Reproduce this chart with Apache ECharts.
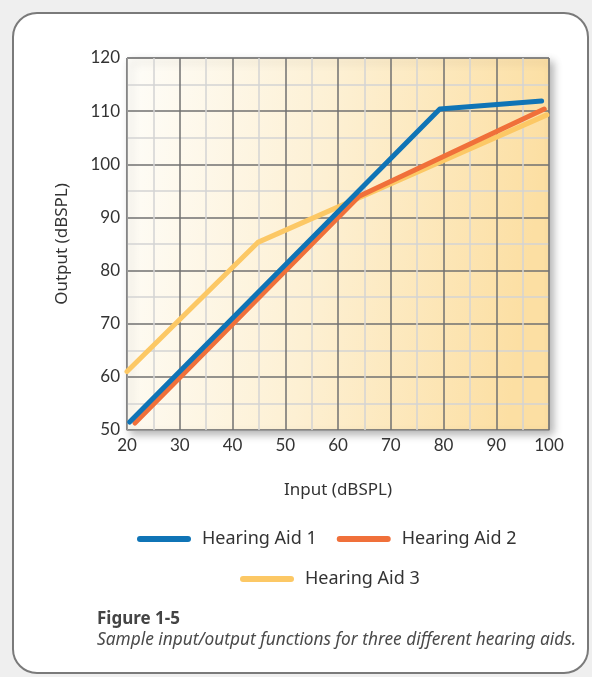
<!DOCTYPE html>
<html>
<head>
<meta charset="utf-8">
<title>Hearing aid input/output functions</title>
<script src="https://cdn.jsdelivr.net/npm/echarts@6/dist/echarts.min.js"></script>
<style>
  html, body { margin: 0; padding: 0; background: #efefef; }
  #chart { width: 592px; height: 677px; }
</style>
</head>
<body>
<div id="chart"></div>
<script>
// Input/output curves (dB SPL) for three hearing aids
const seriesNames = ['Hearing Aid 1', 'Hearing Aid 2', 'Hearing Aid 3'];
const aid1Input  = [20.5, 79.3, 98.6];
const aid1Output = [51.5, 110.4, 111.9];
const aid2Input  = [21.5, 64, 99.1];
const aid2Output = [51.3, 94, 110.4];
const aid3Input  = [20, 44.8, 99.6];
const aid3Output = [61, 85.3, 109.3];

const xTicks = [20, 30, 40, 50, 60, 70, 80, 90, 100];
const yTicks = [50, 60, 70, 80, 90, 100, 110, 120];

const colors = ['#0f74b6', '#f0703a', '#fcc865'];
const TICK_FONT = 'Lato';
const TEXT_FONT = 'Noto Sans';

function pairs(xs, ys) { return xs.map((x, i) => [x, ys[i]]); }

const lineIcon = 'path://M3,0 H51 A3,3 0 0 1 51,6 H3 A3,3 0 0 1 3,0 Z';

const chart = echarts.init(document.getElementById('chart'), null, { renderer: 'canvas' });

const legendText = { fontFamily: TEXT_FONT, fontSize: 18, color: '#333', padding: [0, 0, 0, 6] };

function axisBase(name, gap) {
  return {
    type: 'value', interval: 10,
    name: name, nameLocation: 'middle', nameGap: gap,
    nameTextStyle: { fontFamily: TEXT_FONT, fontSize: 17, color: '#333' },
    axisLine: { show: true, lineStyle: { color: '#999', width: 1 } },
    axisTick: { show: false },
    axisLabel: { margin: 7, fontFamily: TICK_FONT, fontSize: 17, color: '#333' },
    splitLine: { show: true, lineStyle: { color: '#707070', width: 1.5 } },
    minorTick: { show: false, splitNumber: 2 },
    minorSplitLine: { show: true, lineStyle: { color: '#d4d4d4', width: 1.5 } }
  };
}

const xAxis = Object.assign(axisBase('Input (dBSPL)', 52), {
  min: xTicks[0], max: xTicks[xTicks.length - 1]
});
const yAxis = Object.assign(axisBase('Output (dBSPL)', 56), {
  min: yTicks[0], max: yTicks[yTicks.length - 1]
});

chart.setOption({
  backgroundColor: '#efefef',
  animation: false,
  graphic: [
    {
      type: 'rect', z: -10, silent: true,
      shape: { x: 13, y: 13, width: 575, height: 660, r: 24 },
      style: { fill: '#ffffff', stroke: '#7a7a7a', lineWidth: 2 }
    },
    {
      type: 'text', left: 97, top: 611, silent: true,
      style: { text: 'Figure 1-5', font: 'bold 17px "' + TEXT_FONT + '"', fill: '#444' }
    },
    {
      type: 'text', left: 97, top: 632, silent: true,
      style: { text: 'Sample input/output functions for three different hearing aids.',
               font: 'italic 17.3px "' + TEXT_FONT + '"', fill: '#4a4a4a' }
    }
  ],
  grid: {
    left: 127, top: 58, width: 422, height: 372,
    show: true,
    borderColor: '#999', borderWidth: 1,
    backgroundColor: {
      type: 'linear', x: 0, y: 0, x2: 1, y2: 0.15,
      colorStops: [
        { offset: 0, color: '#fefdf9' },
        { offset: 0.5, color: '#fdf0d3' },
        { offset: 1, color: '#fcdfa3' }
      ]
    },
    shadowBlur: 8, shadowColor: 'rgba(0,0,0,0.3)', shadowOffsetX: 4, shadowOffsetY: 4
  },
  legend: [
    {
      data: seriesNames.slice(0, 2), left: 137, top: 530, padding: 0,
      icon: lineIcon, itemWidth: 54, itemHeight: 6, itemGap: 20,
      textStyle: legendText
    },
    {
      data: seriesNames.slice(2), left: 240, top: 570, padding: 0,
      icon: lineIcon, itemWidth: 54, itemHeight: 6,
      textStyle: legendText
    }
  ],
  xAxis: xAxis,
  yAxis: yAxis,
  series: [
    {
      name: seriesNames[2], type: 'line', data: pairs(aid3Input, aid3Output),
      showSymbol: false, z: 2, color: colors[2],
      lineStyle: { width: 5, color: colors[2], cap: 'round', join: 'round' }
    },
    {
      name: seriesNames[1], type: 'line', data: pairs(aid2Input, aid2Output),
      showSymbol: false, z: 3, color: colors[1],
      lineStyle: { width: 5, color: colors[1], cap: 'round', join: 'round' }
    },
    {
      name: seriesNames[0], type: 'line', data: pairs(aid1Input, aid1Output),
      showSymbol: false, z: 4, color: colors[0],
      lineStyle: { width: 5, color: colors[0], cap: 'round', join: 'round' }
    }
  ]
});
</script>
</body>
</html>
